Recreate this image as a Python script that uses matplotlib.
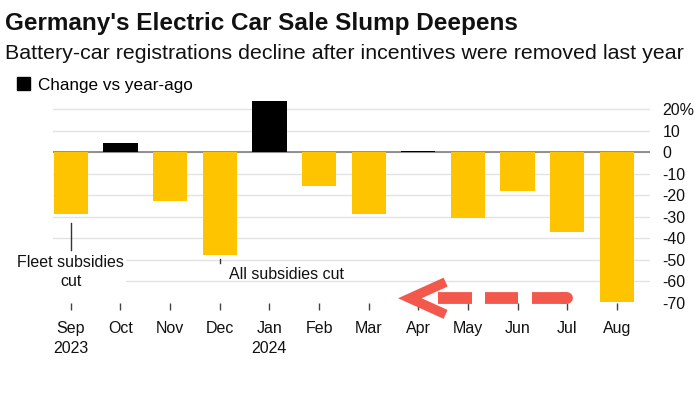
import matplotlib.pyplot as plt
from matplotlib.patches import Patch
from matplotlib.ticker import FuncFormatter

plt.rcParams['font.family'] = ['Liberation Sans', 'DejaVu Sans']

# Monthly battery-car registrations, change vs year-ago (%)
months = ['Sep', 'Oct', 'Nov', 'Dec', 'Jan', 'Feb', 'Mar', 'Apr', 'May', 'Jun', 'Jul', 'Aug']
years = ['2023', '', '', '', '2024', '', '', '', '', '', '', '']
change = [-28.7, 4.5, -22.5, -47.8, 24.0, -15.5, -28.8, 0.5, -30.7, -18.1, -37.2, -69.5]
yticks = [20, 10, 0, -10, -20, -30, -40, -50, -60, -70]

YELLOW = '#ffc400'
BLACK = '#000000'
RED = '#f2584c'

fig = plt.figure(figsize=(7, 3.94), dpi=100)
ax = fig.add_axes([0.0757, 0.231, 0.853, 0.519])

x = list(range(len(months)))
colors = [BLACK if v > 0 else YELLOW for v in change]
ax.bar(x, change, width=0.69, color=colors, zorder=3)

ax.set_xlim(-0.36, 11.67)
ax.set_ylim(-70, 25)

# y axis on the right
ax.yaxis.tick_right()
ax.set_yticks(yticks)
ax.yaxis.set_major_formatter(FuncFormatter(lambda v, p: f'{int(v)}%' if v == 20 else f'{int(v)}'))
ax.tick_params(axis='y', length=0, pad=9, labelsize=11.5, labelcolor='#111111')
ax.grid(axis='y', color='#e3e3e3', linewidth=1, zorder=0)
ax.get_ygridlines()[-1].set_visible(False)
ax.axhline(0, color='#888888', linewidth=1.3, zorder=2)

# x axis labels
labels = [m + ('\n' + y if y else '') for m, y in zip(months, years)]
ax.set_xticks(x)
ax.set_xticklabels(labels, va='top', linespacing=1.45)
ax.tick_params(axis='x', length=5, width=1, color='#444444', pad=8, labelsize=11.5, labelcolor='#111111')

for s in ax.spines.values():
    s.set_visible(False)

# annotations
ax.plot([0, 0], [-33, -45.5], color='#333333', linewidth=1, zorder=4)
ax.text(0, -55.5, 'Fleet subsidies\ncut', ha='center', va='center', fontsize=11.5,
        linespacing=1.3, color='#111111', zorder=5,
        bbox=dict(facecolor='white', edgecolor='none', pad=1))
ax.plot([3, 3], [-49.5, -51.5], color='#333333', linewidth=1, zorder=4)
ax.text(3.18, -56.6, 'All subsidies cut', ha='left', va='center', fontsize=11.5,
        color='#111111', zorder=5)

# red dashed arrow overlay pointing left
dash_starts = [7.40, 8.35, 9.29]
dash_ends = [8.08, 9.01, 10.0]
for x0, x1 in zip(dash_starts, dash_ends):
    ax.plot([x0, x1], [-67.8, -67.8], color=RED, linewidth=8.5,
            solid_capstyle='butt', zorder=6, clip_on=False)
ax.plot([9.9, 10.0], [-67.8, -67.8], color=RED, linewidth=8.5,
        solid_capstyle='round', zorder=6, clip_on=False)
ax.plot([7.55, 6.83, 7.55], [-60.3, -67.8, -75.3], color=RED, linewidth=7,
        solid_joinstyle='miter', solid_capstyle='butt', zorder=6, clip_on=False)

# titles
fig.text(0.007, 0.94, "Germany's Electric Car Sale Slump Deepens", fontsize=17.5,
         fontweight='bold', ha='left', va='center', color='#111111')
fig.text(0.007, 0.865, 'Battery-car registrations decline after incentives were removed last year',
         fontsize=15.4, ha='left', va='center', color='#111111')

fig.legend(handles=[Patch(color=BLACK)], labels=['Change vs year-ago'],
           loc='center left', bbox_to_anchor=(0.024, 0.784), frameon=False,
           fontsize=12.3, handlelength=0.75, handleheight=0.75, handletextpad=0.5,
           borderpad=0, borderaxespad=0)

fig.savefig('out.png', dpi=100)
